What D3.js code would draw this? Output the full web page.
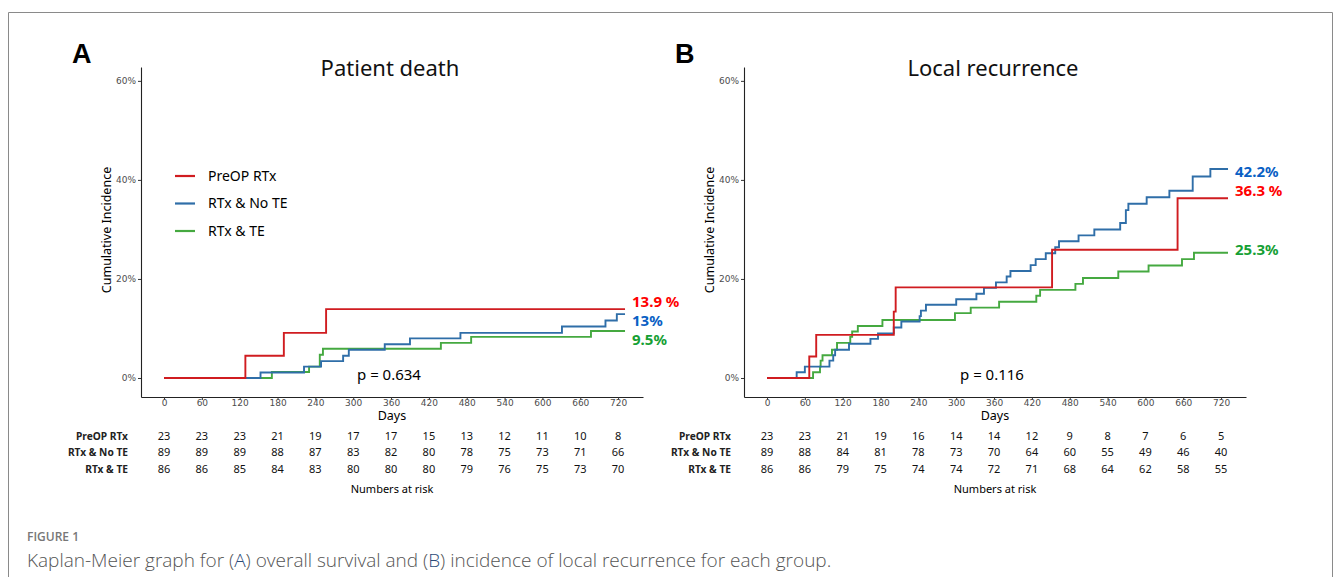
<!DOCTYPE html>
<html lang="en">
<head>
<meta charset="utf-8">
<script src="https://d3js.org/d3.v7.min.js"></script>
<style>
  body { margin: 0; background: #fff; }
  text { font-family: "Noto Sans", "DejaVu Sans", sans-serif; }
</style>
</head>
<body>
<script>

    // ---- data ----
    const groups = ["PreOP RTx", "RTx & No TE", "RTx & TE"];
    const dayTicks = [0, 60, 120, 180, 240, 300, 360, 420, 480, 540, 600, 660, 720];
    const pctTicks = [0, 20, 40, 60];
    const lastDay = 731;

    // [day, cumulative incidence %]
    const deathPreop = [[0, 0], [129, 4.5], [190, 9.1], [257, 13.9]];
    const deathNoTE = [[0, 0], [153, 1.1], [222, 2.3], [249, 3.4], [284, 4.5], [293, 5.7], [350, 6.8],
                       [390, 8.0], [470, 9.1], [631, 10.4], [700, 11.6], [718, 12.9]];
    const deathTE = [[0, 0], [171, 1.2], [230, 2.3], [247, 4.7], [252, 5.9], [439, 7.1], [487, 8.3], [677, 9.5]];

    const recurPreop = [[0, 0], [67, 4.35], [78, 8.7], [201, 13.4], [204, 18.3], [452, 25.9], [651, 36.3]];
    const recurNoTE = [[0, 0], [47, 1.15], [60, 2.3], [99, 3.5], [105, 4.6], [108, 5.7], [130, 6.9], [164, 7.9],
                       [176, 9.0], [201, 10.2], [213, 11.4], [242, 12.5], [244, 13.6], [252, 14.8], [300, 15.9],
                       [332, 17.0], [344, 18.2], [363, 19.3], [380, 20.5], [386, 21.6], [418, 22.8], [426, 24.0],
                       [442, 25.2], [457, 26.4], [463, 27.6], [494, 28.8], [519, 30.0], [560, 31.3], [569, 33.9],
                       [573, 35.2], [602, 36.5], [638, 37.8], [675, 40.7], [703, 42.2]];
    const recurTE = [[0, 0], [73, 1.15], [84, 2.3], [85, 3.5], [88, 4.6], [103, 5.7], [111, 7.1], [132, 8.3],
                     [135, 9.4], [144, 10.5], [183, 11.7], [298, 13.1], [323, 14.2], [368, 15.4], [427, 16.6],
                     [433, 17.8], [489, 19.0], [501, 20.2], [557, 21.5], [605, 22.7], [658, 24.0], [677, 25.3]];

    const deathFinal = ["13.9 %", "13%", "9.5%"];
    const recurFinal = ["36.3 %", "42.2%", "25.3%"];

    const deathRisk = [
        [23, 23, 23, 21, 19, 17, 17, 15, 13, 12, 11, 10, 8],
        [89, 89, 89, 88, 87, 83, 82, 80, 78, 75, 73, 71, 66],
        [86, 86, 85, 84, 83, 80, 80, 80, 79, 76, 75, 73, 70]
    ];
    const recurRisk = [
        [23, 23, 21, 19, 16, 14, 14, 12, 9, 8, 7, 6, 5],
        [89, 88, 84, 81, 78, 73, 70, 64, 60, 55, 49, 46, 40],
        [86, 86, 79, 75, 74, 74, 72, 71, 68, 64, 62, 58, 55]
    ];

    const lineColors = ["#d01c20", "#2f6ea8", "#45a940"];
    const labelColors = ["#ff0000", "#0a5fc4", "#16a034"];

    const W = 1335, H = 577;

    const svg = d3.select("body")
                  .append("svg")
                  .attr("width", W)
                  .attr("height", H);

    // frame round the figure
    svg.append("path")
       .attr("d", "M8.5," + H + "V12.5H1332.5V" + H)
       .attr("fill", "none")
       .attr("stroke", "#8a8a8a")
       .attr("stroke-width", 1);

    function drawPanel(ox, letter, title, curves, finals, labelShift, risk, pText, pX, legend) {
        const g = svg.append("g").attr("transform", "translate(" + ox + ",0)");

        const x = d3.scaleLinear().domain([-36.5, 759.5]).range([141, 643]);
        const y = d3.scaleLinear().domain([-3.84, 62.8]).range([397, 67]);

        // axes
        const xAxis = d3.axisBottom(x).tickValues(dayTicks).tickSize(3).tickSizeOuter(0).tickPadding(0);
        const yAxis = d3.axisLeft(y).tickValues(pctTicks).tickSize(3).tickSizeOuter(0).tickPadding(2)
                        .tickFormat(function (d) { return d + "%"; });

        const gx = g.append("g").attr("transform", "translate(0,397)").call(xAxis);
        const gy = g.append("g").attr("transform", "translate(141,0)").call(yAxis);
        [gx, gy].forEach(function (a) {
            a.select(".domain").attr("stroke", "#222").attr("stroke-width", 1.1);
            a.selectAll(".tick line").attr("stroke", "#333");
            a.selectAll(".tick text")
             .attr("fill", "#4d4d4d")
             .style("font-size", "9px")
             .style("font-family", "'DejaVu Sans', sans-serif");
        });

        // panel letter + title
        g.append("text")
         .attr("x", 72).attr("y", 63)
         .style("font-family", "'Liberation Sans', Arial, sans-serif")
         .style("font-weight", "bold")
         .style("font-size", "27px")
         .text(letter);

        g.append("text")
         .attr("x", 390).attr("y", 76)
         .attr("text-anchor", "middle")
         .style("font-size", "22px")
         .attr("fill", "#111")
         .text(title);

        // axis titles
        g.append("text")
         .attr("x", 392).attr("y", 420)
         .attr("text-anchor", "middle")
         .style("font-size", "12.5px")
         .text("Days");

        g.append("text")
         .attr("transform", "translate(111,230) rotate(-90)")
         .attr("text-anchor", "middle")
         .style("font-size", "12.5px")
         .text("Cumulative Incidence");

        // step curves
        const line = d3.line()
                       .x(function (d) { return x(d[0]); })
                       .y(function (d) { return y(d[1]); })
                       .curve(d3.curveStepAfter);

        // draw order: TE (green) first, then No TE, then PreOP on top
        [2, 1, 0].forEach(function (i) {
            const pts = curves[i].concat([[lastDay, curves[i][curves[i].length - 1][1]]]);
            g.append("path")
             .attr("d", line(pts))
             .attr("fill", "none")
             .attr("stroke", lineColors[i])
             .attr("stroke-width", 1.9);
        });

        // end labels
        curves.forEach(function (c, i) {
            g.append("text")
             .attr("x", x(lastDay) + 7)
             .attr("y", y(c[c.length - 1][1]) + labelShift[i])
             .attr("dy", "0.35em")
             .attr("fill", labelColors[i])
             .style("font-size", "15px")
             .style("font-weight", "bold")
             .text(finals[i]);
        });

        // p value
        g.append("text")
         .attr("x", pX).attr("y", 375)
         .attr("dy", "0.35em")
         .style("font-size", "15px")
         .text(pText);

        // legend
        if (legend) {
            groups.forEach(function (name, i) {
                const ly = 176 + i * 27.5;
                g.append("line")
                 .attr("x1", 175).attr("x2", 195)
                 .attr("y1", ly).attr("y2", ly)
                 .attr("stroke", lineColors[i])
                 .attr("stroke-width", 2.2);
                g.append("text")
                 .attr("x", 208).attr("y", ly)
                 .attr("dy", "0.35em")
                 .style("font-size", "14px")
                 .text(name);
            });
        }

        // numbers at risk
        risk.forEach(function (row, r) {
            const ry = 436 + r * 16.5;
            g.append("text")
             .attr("x", 128).attr("y", ry)
             .attr("dy", "0.35em")
             .attr("text-anchor", "end")
             .style("font-size", "10.2px")
             .style("font-weight", "bold")
             .attr("fill", "#222")
             .text(groups[r]);
            g.selectAll(null)
             .data(row)
             .enter()
             .append("text")
             .attr("x", function (d, i) { return x(dayTicks[i]); })
             .attr("y", ry)
             .attr("dy", "0.35em")
             .attr("text-anchor", "middle")
             .style("font-size", "11px")
             .attr("fill", "#111")
             .text(function (d) { return d; });
        });

        g.append("text")
         .attr("x", 392).attr("y", 489)
         .attr("dy", "0.35em")
         .attr("text-anchor", "middle")
         .style("font-size", "11px")
         .text("Numbers at risk");
    }

    drawPanel(0, "A", "Patient death", [deathPreop, deathNoTE, deathTE], deathFinal, [-7, 7, 9],
              deathRisk, "p = 0.634", 357, true);
    drawPanel(603, "B", "Local recurrence", [recurPreop, recurNoTE, recurTE], recurFinal, [-7, 3, -3],
              recurRisk, "p = 0.116", 357, false);

    // caption
    svg.append("text")
       .attr("x", 27).attr("y", 541)
       .style("font-family", "'Open Sans', sans-serif")
       .style("font-size", "12px")
       .style("font-weight", "600")
       .attr("fill", "#777")
       .text("FIGURE 1");

    const cap = svg.append("text")
                   .attr("x", 27).attr("y", 567)
                   .style("font-family", "'Open Sans', sans-serif")
                   .style("font-size", "19px")
                   .style("font-weight", "300")
                   .attr("fill", "#555");
    cap.append("tspan").text("Kaplan-Meier graph for (");
    cap.append("tspan").attr("fill", "#2b4a78").text("A");
    cap.append("tspan").text(") overall survival and (");
    cap.append("tspan").attr("fill", "#2b4a78").text("B");
    cap.append("tspan").text(") incidence of local recurrence for each group.");

</script>
</body>
</html>
